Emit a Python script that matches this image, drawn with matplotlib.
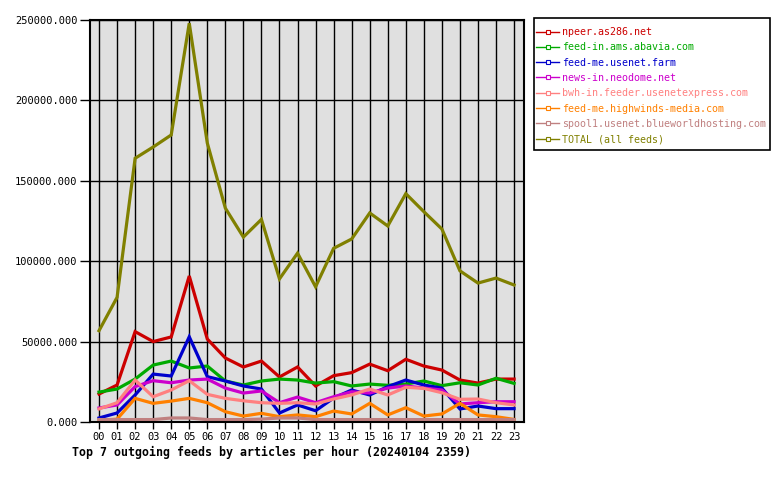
import matplotlib
matplotlib.use('Agg')
import matplotlib.pyplot as plt
from matplotlib.patches import Rectangle
from matplotlib.ticker import FormatStrFormatter

hours = ['%02d' % h for h in range(24)]

npeer = [17400, 23000, 56200, 50000, 52900, 90800, 51600, 39800, 34200, 37900, 28000, 34200,
         22400, 28800, 30700, 36000, 31900, 39000, 34800, 32300, 26100, 24200, 26700, 26700]
abavia = [18600, 20500, 26700, 35400, 37900, 33600, 34800, 25500, 23000, 25500, 26700, 26100,
          24200, 25100, 22400, 23600, 22800, 23600, 25500, 22600, 24400, 23000, 27200, 24000]
farm = [2500, 5600, 16800, 29800, 28600, 53000, 28200, 25500, 22400, 20500, 5600, 10600,
        7000, 14900, 19900, 16800, 22000, 26100, 23000, 21100, 8100, 9950, 8300, 8300]
neodome = [8700, 10600, 22000, 25700, 24400, 26100, 26700, 21100, 18000, 19300, 12000, 15500,
           12000, 15700, 18800, 18000, 21100, 22400, 21100, 19900, 11200, 12000, 12600, 12600]
usenetexpress = [8100, 12000, 26100, 15700, 19900, 25700, 17200, 14700, 13200, 12000, 11600, 12000,
                 11200, 14300, 16800, 20500, 16800, 21600, 20900, 18200, 14100, 14300, 12000, 10600]
highwinds = [1000, 1800, 14700, 11600, 13000, 14700, 12000, 6400, 3700, 5400, 3300, 4400,
             3300, 6800, 5000, 11600, 4400, 8900, 3700, 5000, 11600, 4400, 3300, 1600]
spool1 = [1500, 1500, 1500, 1500, 2500, 2500, 1500, 1500, 1500, 1800, 2500, 2500,
          1500, 1500, 1500, 1500, 1500, 1500, 1500, 1500, 1500, 1500, 1500, 1500]
total = [56800, 77500, 164000, 171000, 178500, 248000, 173500, 133000, 115000, 126000, 89000, 105000,
         84100, 108000, 113800, 130000, 121900, 142000, 130800, 120000, 94000, 86400, 89500, 85200]

series = [
    ('npeer.as286.net', npeer, '#cc0000'),
    ('feed-in.ams.abavia.com', abavia, '#00aa00'),
    ('feed-me.usenet.farm', farm, '#0000cc'),
    ('news-in.neodome.net', neodome, '#cc00cc'),
    ('bwh-in.feeder.usenetexpress.com', usenetexpress, '#ff8080'),
    ('feed-me.highwinds-media.com', highwinds, '#ff8000'),
    ('spool1.usenet.blueworldhosting.com', spool1, '#c08080'),
    ('TOTAL (all feeds)', total, '#808000'),
]

plt.rcParams['font.family'] = ['DejaVu Sans Mono']

fig = plt.figure(figsize=(7.8, 4.8), dpi=100)
ax = fig.add_axes([90/780, 58/480, 434/780, 402/480])
ax.set_facecolor('#e0e0e0')

x = list(range(24))
handles = []
for name, vals, col in series:
    ax.plot(x, vals, color=col, lw=2.3, solid_joinstyle='miter')
    h, = ax.plot([], [], color=col, lw=1, marker='s', markersize=3,
                 markerfacecolor='white', markeredgecolor=col, markeredgewidth=0.8)
    handles.append((h, name, col))

ax.set_xlim(-0.5, 23.55)
ax.set_ylim(0, 250000)
ax.set_xticks(x)
ax.set_xticklabels(hours, fontsize=7.5)
ax.set_yticks(range(0, 250001, 50000))
ax.yaxis.set_major_formatter(FormatStrFormatter('%.3f'))
ax.tick_params(axis='y', labelsize=7.5, length=7, width=1, pad=2)
ax.tick_params(axis='x', length=5, width=1, pad=2)
ax.grid(True, color='black', lw=1)
ax.set_axisbelow(True)
for s in ax.spines.values():
    s.set_linewidth(1.5)

# legend box drawn by hand, entries without frame
fig.patches.append(Rectangle((534/780, 1 - 150/480), 236/780, 132/480,
                             transform=fig.transFigure, facecolor='white',
                             edgecolor='black', lw=1.2))
leg = fig.legend([h for h, _, _ in handles], [n for _, n, _ in handles],
                 loc='upper left', bbox_to_anchor=(536/780, 1 - 27/480),
                 fontsize=7.2, frameon=False, borderaxespad=0, borderpad=0,
                 handlelength=2.3, handletextpad=0.3, labelspacing=0.53)
for t, (_, _, col) in zip(leg.get_texts(), handles):
    t.set_color(col)

fig.text(72/780, 1 - 452/480, 'Top 7 outgoing feeds by articles per hour (20240104 2359)',
         fontsize=8.4, fontweight='bold', va='center', ha='left')

fig.savefig('out.png', dpi=100)
